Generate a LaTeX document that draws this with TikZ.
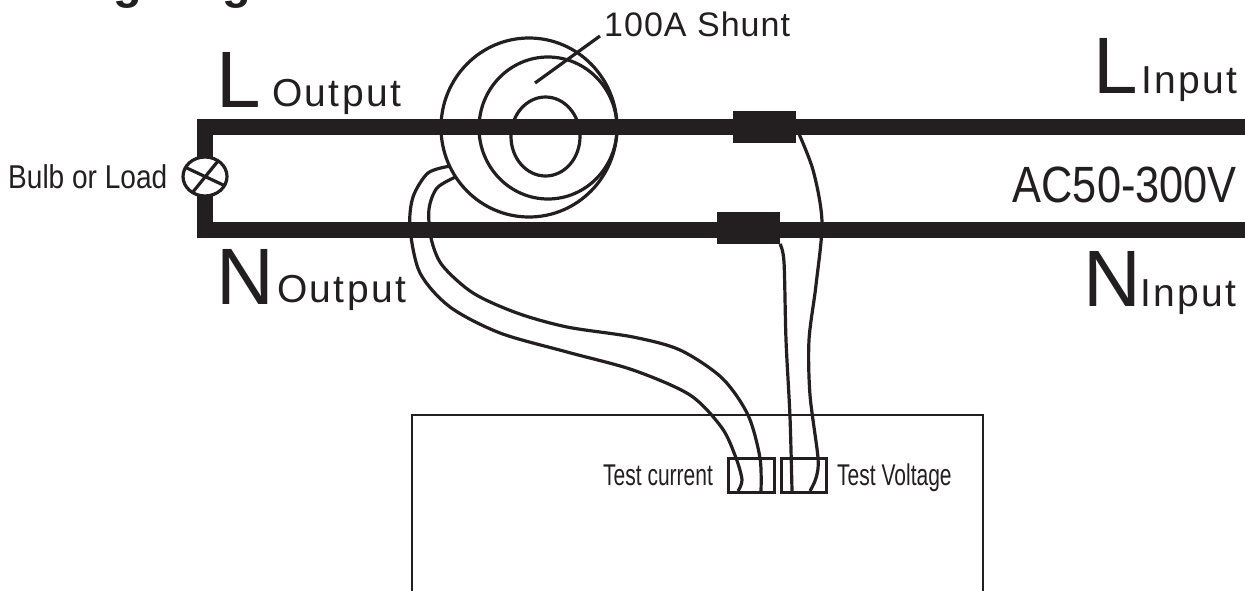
\documentclass[tikz,border=0pt]{standalone}
\usepackage{fontspec}
\setmainfont{Liberation Sans}
\newfontfamily\spacedfont[LetterSpace=6]{Liberation Sans}
\newfontfamily\shuntfont[LetterSpace=3]{Liberation Sans}
\newfontfamily\narrowfont[FakeStretch=0.85]{Liberation Sans}
\newfontfamily\testfont[FakeStretch=0.7]{Liberation Sans}
\usetikzlibrary{shapes.geometric}
\definecolor{ink}{HTML}{231F20}
\tikzset{
  thinline/.style={ink,line width=3.2pt},
  mainwire/.style={ink,line width=16pt,line join=miter},
  ringnode/.style={draw=ink,line width=3.2pt,ellipse,inner sep=0pt,outer sep=0pt},
  joinblock/.style={fill=ink,inner sep=0pt,outer sep=0pt,minimum width=63pt,minimum height=32pt},
  testbox/.style={draw=ink,line width=3pt,inner sep=0pt,outer sep=0pt,minimum height=34pt},
  biglabel/.style={ink,anchor=base west,inner sep=0pt,font=\fontsize{80}{80}\selectfont},
  wordlabel/.style={ink,anchor=base west,inner sep=0pt,font=\fontsize{39}{39}\selectfont\spacedfont},
  testlabel/.style={ink,anchor=base west,inner sep=0pt,font=\fontsize{30}{30}\selectfont\testfont}
}
\begin{document}
\begin{tikzpicture}[x=1pt,y=-1pt]
\clip (0,0) rectangle (1245,591);

\node[ink,anchor=base west,inner sep=0pt,font=\fontsize{47}{47}\selectfont\bfseries] (title) at (-4,-1) {Wiring diagram};

\node[ringnode,minimum width=176pt,minimum height=179pt] (shunt) at (529,127.5) {};
\node[ringnode,minimum width=138pt,minimum height=142pt] (shuntmid) at (548,128) {};
\node[ringnode,minimum width=69pt,minimum height=79pt] (shunthole) at (545.5,136.5) {};

\node[ink,anchor=base west,inner sep=0pt,font=\fontsize{34}{34}\selectfont\shuntfont] (shuntlabel) at (604,37) {100A Shunt};
\coordinate (leaderend) at (600,36);
\coordinate (leaderstart) at (535,83);
\draw[thinline] (leaderstart) -- (leaderend);

\coordinate (linput) at (1245,127);
\coordinate (lcorner) at (205,127);
\coordinate (ncorner) at (205,230);
\coordinate (ninput) at (1245,230);
\draw[mainwire] (linput) -- (lcorner) -- (ncorner) -- (ninput);

\node[joinblock] (lblock) at (764.5,127) {};
\node[joinblock] (nblock) at (748.5,228) {};

\node[ringnode,fill=white,minimum width=44pt,minimum height=39pt] (bulb) at (205,176.5) {};
\draw[thinline] (bulb.155) -- (bulb.-25);
\draw[thinline] (bulb.232) -- (bulb.50);
\node[ink,anchor=base west,inner sep=0pt,font=\fontsize{33}{33}\selectfont\narrowfont] (bulblabel) at (8,189) {Bulb or Load};

\node[biglabel] (lout) at (216,108) {L};
\node[wordlabel] (loutword) at (272,107) {Output};
\node[biglabel] (nout) at (216,304) {N};
\node[wordlabel] (noutword) at (277,302) {Output};
\node[biglabel] (lin) at (1093,94) {L};
\node[wordlabel] (linword) at (1141,94) {Input};
\node[biglabel] (nin) at (1083,306) {N};
\node[wordlabel] (ninword) at (1140,306) {Input};
\node[ink,anchor=base east,inner sep=0pt,font=\fontsize{51}{51}\selectfont\narrowfont] (aclabel) at (1237,202) {AC50-300V};

\draw[ink,line width=2.6pt] (412,591) -- (412,415) -- (983,415) -- (983,591);

\node[testbox,minimum width=46pt] (tcurrent) at (751,475) {};
\node[testbox,minimum width=45pt] (tvoltage) at (803.5,475) {};
\node[testlabel] (tcurrentlabel) at (603,485) {Test current};
\node[testlabel] (tvoltagelabel) at (837,485) {Test Voltage};

\coordinate (cur1) at (738,491);
\coordinate (cur2) at (761,491);
\coordinate (volt1) at (792,491);
\coordinate (volt2) at (810,491);

\draw[thinline] plot[smooth] coordinates {(shunt.206) (428,173) (413,197) (410,228) (420,273) (450,307) (500,333) (567,352) (633,370) (690,395) (722,428) (736,458) (742,480) (cur1)};
\draw[thinline] plot[smooth] coordinates {(shunt.214) (437,188) (429,209) (431,238) (442,265) (473,293) (517,313) (567,327) (633,337) (680,350) (722,378) (748,415) (760,458) (cur2)};
\draw[thinline] plot[smooth] coordinates {(lblock.east) (813,170) (822,222) (816,285) (809,340) (810,395) (818,458) (816,478) (volt2)};
\draw[thinline] plot[smooth] coordinates {(nblock.south east) (784,262) (786,340) (790,417) (volt1)};
\end{tikzpicture}
\end{document}
